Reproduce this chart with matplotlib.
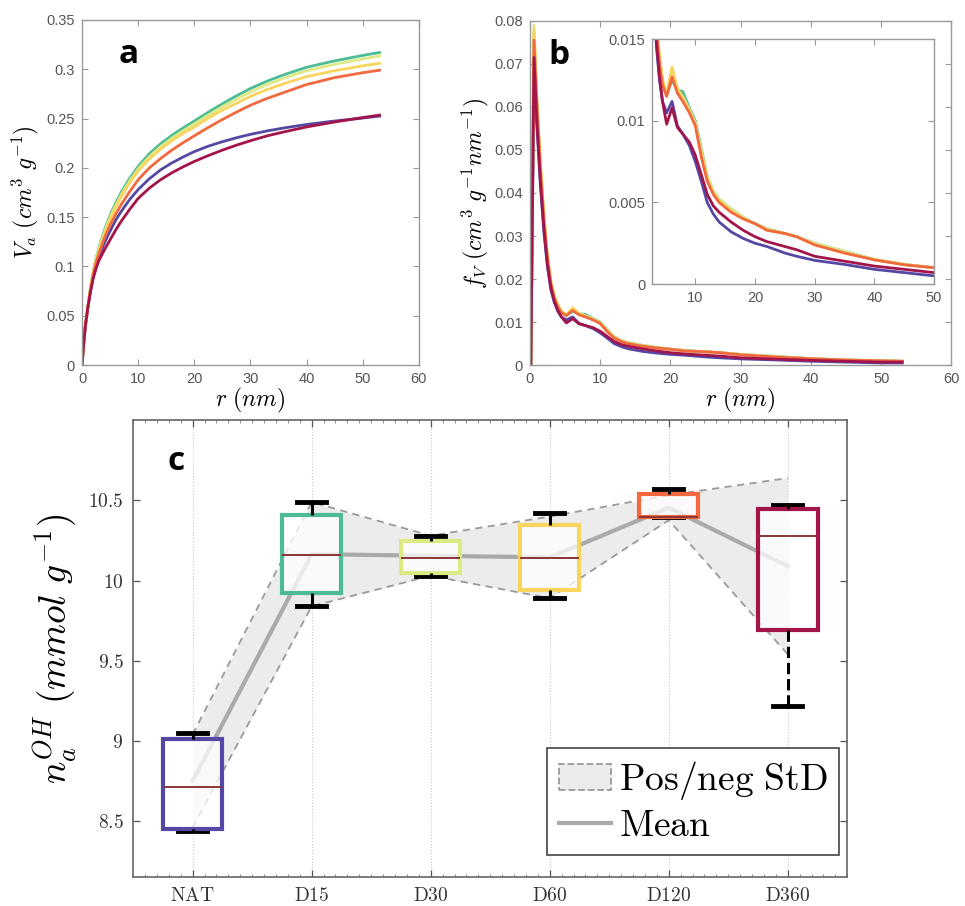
import matplotlib
matplotlib.use("Agg")
import matplotlib.pyplot as plt
import numpy as np
from matplotlib.lines import Line2D
from matplotlib.patches import Patch
from matplotlib.ticker import FuncFormatter, MultipleLocator

plt.rcParams['mathtext.fontset'] = 'cm'
plt.rcParams['font.family'] = ['Liberation Sans', 'DejaVu Sans']

# samples and their colours
samples = ['NAT', 'D15', 'D30', 'D60', 'D120', 'D360']
colors = ['#5548a4', '#4dbb95', '#dde985', '#f9d45e', '#f2693f', '#a3154a']

# (a) cumulative pore volume
r_cum = [0, 0.3, 0.6, 1, 1.5, 2, 2.5, 3, 4, 5, 6, 7, 8.5, 10, 12, 14, 16, 18, 20,
         22.5, 25, 27.5, 30, 33, 36, 40, 45, 50, 53]
va_nat = [0, 0.022, 0.040, 0.057, 0.075, 0.090, 0.101, 0.110, 0.124, 0.136, 0.147, 0.156, 0.168, 0.178, 0.189,
          0.198, 0.205, 0.211, 0.2165, 0.222, 0.2265, 0.2305, 0.234, 0.2375, 0.2405, 0.244, 0.2475, 0.2505, 0.2525]
va_d15 = [0, 0.022, 0.040, 0.058, 0.078, 0.095, 0.108, 0.119, 0.137, 0.152, 0.1645, 0.1755, 0.1895, 0.2015, 0.2145,
          0.2245, 0.233, 0.2405, 0.2475, 0.2565, 0.265, 0.273, 0.2805, 0.288, 0.2945, 0.302, 0.3085, 0.314, 0.317]
va_d30 = [0, 0.022, 0.040, 0.058, 0.078, 0.095, 0.107, 0.118, 0.135, 0.150, 0.162, 0.173, 0.187, 0.199, 0.2115,
          0.2215, 0.230, 0.2375, 0.2445, 0.2535, 0.262, 0.2695, 0.277, 0.2845, 0.291, 0.2985, 0.305, 0.3105, 0.3135]
va_d60 = [0, 0.022, 0.040, 0.058, 0.077, 0.094, 0.106, 0.116, 0.133, 0.148, 0.160, 0.171, 0.185, 0.197, 0.209,
          0.219, 0.2275, 0.235, 0.2415, 0.2505, 0.2585, 0.2655, 0.2725, 0.2795, 0.2855, 0.2925, 0.2985, 0.3035, 0.306]
va_d120 = [0, 0.022, 0.040, 0.057, 0.076, 0.092, 0.104, 0.113, 0.129, 0.142, 0.153, 0.163, 0.176, 0.188, 0.200,
           0.2095, 0.218, 0.2255, 0.2325, 0.241, 0.249, 0.2565, 0.2635, 0.2705, 0.2765, 0.2845, 0.2915, 0.2965, 0.299]
va_d360 = [0, 0.022, 0.040, 0.057, 0.074, 0.088, 0.098, 0.106, 0.117, 0.127, 0.137, 0.146, 0.158, 0.169, 0.1795,
           0.188, 0.195, 0.201, 0.2065, 0.2125, 0.218, 0.223, 0.2275, 0.2325, 0.2365, 0.2415, 0.2465, 0.251, 0.2535]

# (b) pore size distribution
r_psd = [0.15, 0.6, 1.0, 1.5, 2.0, 2.5, 3.0, 3.5, 4.0, 4.5, 5.2, 6.1, 7.0, 7.9, 9.0, 10.0, 11.0,
         12.0, 13.0, 14.0, 16.0, 18.0, 20.0, 22.0, 25.0, 27.0, 30.0, 35.0, 40.0, 45.0, 50.0, 53.0]
fv_nat = [0, 0.069, 0.056, 0.042, 0.031, 0.023, 0.0175, 0.0145, 0.0125, 0.0112, 0.0105, 0.0112, 0.0097, 0.0092, 0.0085, 0.0075,
          0.0063, 0.0050, 0.0043, 0.0038, 0.0032, 0.0028, 0.0025, 0.0023, 0.0019, 0.0017, 0.00145, 0.0012, 0.0009, 0.0007, 0.0005, 0.0005]
fv_d15 = [0, 0.077, 0.061, 0.046, 0.034, 0.025, 0.019, 0.0156, 0.0136, 0.0123, 0.0116, 0.0125, 0.0119, 0.0118, 0.0108, 0.0100,
          0.0083, 0.0066, 0.0057, 0.0052, 0.0046, 0.0041, 0.0037, 0.0034, 0.0031, 0.0029, 0.0025, 0.0020, 0.0015, 0.0012, 0.0010, 0.0009]
fv_d30 = [0, 0.079, 0.062, 0.047, 0.035, 0.0255, 0.0195, 0.016, 0.014, 0.0125, 0.0117, 0.0131, 0.0119, 0.0115, 0.0107, 0.0099,
          0.0082, 0.0066, 0.0057, 0.0052, 0.0046, 0.0041, 0.0037, 0.0034, 0.0031, 0.0029, 0.0025, 0.0020, 0.0015, 0.0012, 0.0010, 0.0009]
fv_d60 = [0, 0.078, 0.062, 0.047, 0.035, 0.0255, 0.0195, 0.016, 0.014, 0.0125, 0.0117, 0.0133, 0.0120, 0.0114, 0.0106, 0.0098,
          0.0080, 0.0065, 0.0056, 0.0051, 0.0045, 0.0040, 0.0037, 0.0033, 0.0031, 0.0029, 0.0024, 0.0019, 0.0015, 0.0012, 0.0010, 0.0009]
fv_d120 = [0, 0.0755, 0.061, 0.046, 0.034, 0.025, 0.019, 0.0155, 0.0135, 0.0122, 0.0115, 0.0127, 0.0117, 0.0112, 0.0105, 0.0097,
           0.0078, 0.0063, 0.0055, 0.0050, 0.0044, 0.0040, 0.0037, 0.0033, 0.0031, 0.0029, 0.0024, 0.0019, 0.00148, 0.00118, 0.0010, 0.0009]
fv_d360 = [0, 0.0715, 0.057, 0.043, 0.032, 0.0235, 0.018, 0.0148, 0.0127, 0.0112, 0.0098, 0.0108, 0.0096, 0.0092, 0.0087, 0.0079,
           0.0067, 0.0055, 0.0048, 0.0044, 0.0038, 0.0033, 0.0029, 0.0026, 0.0023, 0.0021, 0.0017, 0.0014, 0.0011, 0.0009, 0.0007, 0.0007]

# (c) OH content: box statistics, mean and standard deviation
oh_med = [8.71, 10.16, 10.14, 10.14, 10.40, 10.28]
oh_q1 = [8.45, 9.92, 10.05, 9.94, 10.40, 9.69]
oh_q3 = [9.01, 10.41, 10.25, 10.35, 10.54, 10.45]
oh_lo = [8.44, 9.84, 10.03, 9.89, 10.40, 9.22]
oh_hi = [9.05, 10.49, 10.28, 10.42, 10.57, 10.47]
oh_mean = [8.75, 10.165, 10.155, 10.145, 10.455, 10.09]
oh_std = [0.29, 0.325, 0.125, 0.255, 0.078, 0.55]

va_all = [va_nat, va_d15, va_d30, va_d60, va_d120, va_d360]
fv_all = [fv_nat, fv_d15, fv_d30, fv_d60, fv_d120, fv_d360]

FRAME = '#9a9a9a'
TICKC = '#555555'


def style_matlab(ax):
    for s in ax.spines.values():
        s.set_color(FRAME)
        s.set_linewidth(1.0)
    ax.tick_params(direction='in', top=True, right=True, length=4, width=0.8,
                   color=FRAME, labelcolor=TICKC, labelsize=10.5, pad=5)
    ax.xaxis.set_major_formatter(FuncFormatter(lambda v, p: f'{v:g}'))
    ax.yaxis.set_major_formatter(FuncFormatter(lambda v, p: f'{v:g}'))


fig = plt.figure(figsize=(9.65, 9.06), dpi=100)

# ---- panel a ----
ax_a = fig.add_axes([0.085, 0.597, 0.349, 0.381])
for vals, c in zip(va_all, colors):
    ax_a.plot(r_cum, vals, color=c, lw=2.0)
ax_a.set_xlim(0, 60)
ax_a.set_ylim(0, 0.35)
ax_a.set_xticks(np.arange(0, 61, 10))
ax_a.set_yticks(np.arange(0, 0.351, 0.05))
style_matlab(ax_a)
ax_a.set_xlabel(r'$r\ (nm)$', fontsize=17, labelpad=0)
ax_a.set_ylabel(r'$V_a\ (cm^3\ g^{-1})$', fontsize=17, labelpad=4)
ax_a.text(0.14, 0.9, 'a', transform=ax_a.transAxes, fontsize=24, fontweight='bold',
          family='Open Sans', ha='center', va='center')

# ---- panel b ----
ax_b = fig.add_axes([0.549, 0.597, 0.437, 0.380])
for vals, c in zip(fv_all, colors):
    ax_b.plot(r_psd, vals, color=c, lw=2.0)
ax_b.set_xlim(0, 60)
ax_b.set_ylim(0, 0.08)
ax_b.set_xticks(np.arange(0, 61, 10))
ax_b.set_yticks(np.arange(0, 0.081, 0.01))
style_matlab(ax_b)
ax_b.set_xlabel(r'$r\ (nm)$', fontsize=17, labelpad=0)
ax_b.set_ylabel(r'$f_V\ (cm^3\ g^{-1} nm^{-1})$', fontsize=17, labelpad=2)
ax_b.text(0.07, 0.9, 'b', transform=ax_b.transAxes, fontsize=24, fontweight='bold',
          family='Open Sans', ha='center', va='center')

# inset zoom on the tail of the distribution
ax_in = fig.add_axes([0.676, 0.6865, 0.292, 0.270])
for vals, c in zip(fv_all, colors):
    ax_in.plot(r_psd, vals, color=c, lw=2.0)
ax_in.set_xlim(2.8, 50)
ax_in.set_ylim(0, 0.015)
ax_in.set_xticks([10, 20, 30, 40, 50])
ax_in.set_yticks([0, 0.005, 0.01, 0.015])
style_matlab(ax_in)

# ---- panel c ----
ax_c = fig.add_axes([0.138, 0.032, 0.740, 0.504])
pos = np.arange(1, len(samples) + 1)
lower = np.array(oh_mean) - np.array(oh_std)
upper = np.array(oh_mean) + np.array(oh_std)
ax_c.fill_between(pos, lower, upper, color='#ececec', lw=0, zorder=1)
ax_c.plot(pos, upper, color='#9a9a9a', ls=(0, (4, 3)), lw=1.3, zorder=2)
ax_c.plot(pos, lower, color='#9a9a9a', ls=(0, (4, 3)), lw=1.3, zorder=2)
ax_c.plot(pos, oh_mean, color='#aaaaaa', lw=3, zorder=3)

stats = []
for i in range(len(samples)):
    stats.append(dict(med=oh_med[i], q1=oh_q1[i], q3=oh_q3[i],
                      whislo=oh_lo[i], whishi=oh_hi[i], fliers=[]))
bp = ax_c.bxp(stats, positions=pos, widths=0.5, patch_artist=True, showfliers=False,
              whiskerprops=dict(color='black', lw=2.2, ls='--'),
              capprops=dict(color='black', lw=3.5),
              medianprops=dict(color='#8c3535', lw=1.4),
              capwidths=0.24, zorder=4)
for box, c in zip(bp['boxes'], colors):
    box.set_facecolor((1, 1, 1, 0.75))
    box.set_edgecolor(c)
    box.set_linewidth(3.0)
# caps sit beneath the boxes so a cap on a box edge stays hidden
for cap in bp['caps']:
    cap.set_zorder(3.9)

ax_c.set_xlim(0.5, 6.5)
ax_c.set_ylim(8.15, 11.0)
ax_c.set_xticks(pos)
ax_c.set_xticklabels([r'$\mathrm{%s}$' % s for s in samples])
ax_c.set_yticks([8.5, 9, 9.5, 10, 10.5])
ax_c.yaxis.set_major_formatter(FuncFormatter(lambda v, p: r'$\mathrm{%g}$' % v))
ax_c.xaxis.set_minor_locator(MultipleLocator(0.1))
ax_c.tick_params(which='major', direction='in', top=True, right=True, length=5, width=0.9,
                 color='#555555', labelcolor='#333333', labelsize=14, pad=7)
ax_c.tick_params(which='minor', direction='in', top=True, length=2.5, width=0.6, color='#777777')
for s in ax_c.spines.values():
    s.set_color('#666666')
    s.set_linewidth(1.2)
ax_c.grid(axis='x', which='major', ls=':', color='#c8c8c8', lw=0.8)
ax_c.set_axisbelow(True)
ax_c.set_ylabel(r'$n_a^{OH}\ (mmol\ g^{-1})$', fontsize=27, labelpad=6)
ax_c.text(0.06, 0.91, 'c', transform=ax_c.transAxes, fontsize=24, fontweight='bold',
          family='Open Sans', ha='center', va='center')

handles = [Patch(facecolor='#ececec', edgecolor='#9a9a9a', ls='--', lw=1.3),
           Line2D([0], [0], color='#aaaaaa', lw=3)]
leg = ax_c.legend(handles, [r'$\mathrm{Pos/neg\ StD}$', r'$\mathrm{Mean}$'],
                  loc='lower right', bbox_to_anchor=(0.988, 0.048), borderaxespad=0,
                  fontsize=27, handlelength=1.4, handletextpad=0.2, labelspacing=0.15,
                  borderpad=0.3, fancybox=False, framealpha=1)
leg.get_frame().set_edgecolor('#444444')
leg.get_frame().set_linewidth(1.2)

fig.savefig('out.png', dpi=100)
